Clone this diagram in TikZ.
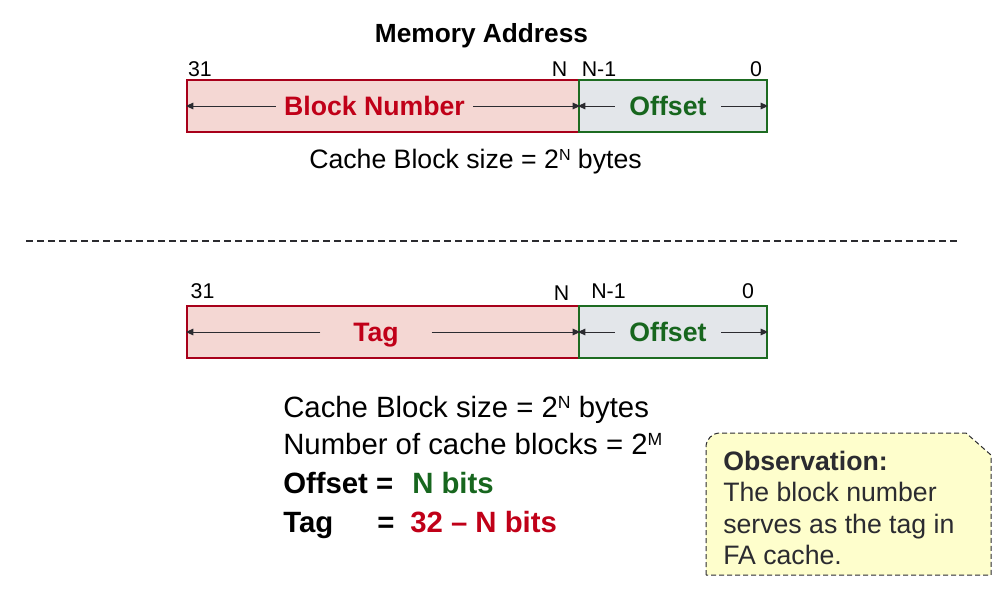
\documentclass[tikz,border=0pt]{standalone}
\usepackage{fontspec}
\setmainfont{Liberation Sans}
\usetikzlibrary{arrows.meta}
\definecolor{tagred}{HTML}{C00018}
\definecolor{redline}{HTML}{A8001A}
\definecolor{redfill}{HTML}{F4D7D3}
\definecolor{offgreen}{HTML}{17661E}
\definecolor{greenline}{HTML}{1D6B21}
\definecolor{greenfill}{HTML}{E3E6EA}
\definecolor{notefill}{HTML}{FEFECC}
\definecolor{inkgray}{HTML}{2B2B30}
\newcommand\supmark[1]{\raisebox{0.3em}{\scalebox{0.6}{#1}}}
\tikzset{
  redbar/.style = {draw=redline, fill=redfill, line width=1.5pt, minimum width=294pt, minimum height=39pt, inner sep=0pt},
  greenbar/.style = {draw=greenline, fill=greenfill, line width=1.5pt, minimum width=141pt, minimum height=39pt, inner sep=0pt},
  bartext/.style = {font=\fontsize{20}{24}\selectfont\bfseries, anchor=base, inner ysep=0pt},
  bitno/.style = {font=\fontsize{16}{18}\selectfont, anchor=base, inner sep=0pt},
  fieldarr/.style = {draw=inkgray, line width=0.75pt, -{Triangle[length=5.5pt,width=5pt]}},
  listtext/.style = {font=\fontsize{22}{26}\selectfont, anchor=base west, inner sep=0pt},
  listbold/.style = {font=\fontsize{22}{26}\selectfont\bfseries, anchor=base west, inner sep=0pt},
  notebox/.style = {draw=inkgray, fill=notefill, line width=0.75pt, dash pattern=on 3.75pt off 2.25pt},
  notetext/.style = {font=\fontsize{20}{23.6}\selectfont, text=inkgray, align=left, anchor=north west, inner sep=0pt}
}
\begin{document}
\begin{tikzpicture}[x=0.75pt, y=-0.75pt]
	\useasboundingbox (0,0) rectangle (1008,611);
	% memory address
	\node[font=\fontsize{19.7}{22}\selectfont\bfseries, anchor=base] (memaddr) at (481.5,42) {Memory Address};
	\node[redbar] (blkfield) at (383,106) {};
	\node[greenbar] (offfield) at (673,106) {};
	\node[bartext, text=tagred, inner xsep=6pt] (blklbl) at (374.5,115.5) {Block Number};
	\node[bartext, text=offgreen, inner xsep=10.9pt] (offlbl) at (668,115.5) {Offset};
	\draw[fieldarr] (blklbl.west |- blkfield) -- (blkfield.west);
	\draw[fieldarr] (blklbl.east |- blkfield) -- (blkfield.east);
	\draw[fieldarr] (offlbl.west |- offfield) -- (offfield.west);
	\draw[fieldarr] (offlbl.east |- offfield) -- (offfield.east);
	\node[bitno] (hi1) at (200,76) {31};
	\node[bitno] (n1) at (559.5,76) {N};
	\node[bitno] (nm1) at (599,76) {N-1};
	\node[bitno] (lo1) at (756,76) {0};
	\node[font=\fontsize{20}{24}\selectfont, anchor=base, inner sep=0pt] (bsize1) at (475.5,168) {Cache Block size = 2\supmark{N} bytes};
	% separator
	\coordinate (sepL) at (26,240.5);
	\coordinate (sepR) at (957,240.5);
	\draw[inkgray, line width=1.5pt, dash pattern=on 5.25pt off 3pt] (sepL) -- (sepR);
	% tag / offset
	\node[redbar] (tagfield) at (383,332) {};
	\node[greenbar] (off2field) at (673,332) {};
	\node[bartext, text=tagred, inner xsep=24.4pt] (taglbl) at (376,341.5) {Tag};
	\node[bartext, text=offgreen, inner xsep=10.9pt] (off2lbl) at (668,341.5) {Offset};
	\draw[fieldarr] (taglbl.west |- tagfield) -- (tagfield.west);
	\draw[fieldarr] (taglbl.east |- tagfield) -- (tagfield.east);
	\draw[fieldarr] (off2lbl.west |- off2field) -- (off2field.west);
	\draw[fieldarr] (off2lbl.east |- off2field) -- (off2field.east);
	\node[bitno] (hi2) at (202.6,298) {31};
	\node[bitno] (n2) at (561.5,300) {N};
	\node[bitno] (nm2) at (608.5,298) {N-1};
	\node[bitno] (lo2) at (748,298) {0};
	% sizes
	\node[listtext] (bsize2) at (283,417) {Cache Block size = 2\supmark{N} bytes};
	\node[listtext] (nblocks) at (283,454.5) {Number of cache blocks = 2\supmark{M}};
	\node[listbold] (offeq) at (283,493) {Offset =};
	\node[listbold, text=offgreen] (offbits) at (412,493) {N bits};
	\node[listbold] (tageq) at (283,532) {Tag};
	\node[listbold] (tagsign) at (377,532) {=};
	\node[listbold, text=tagred] (tagbits) at (410,532) {32 – N bits};
	% observation note
	\filldraw[notebox] (706,575) -- (706,447) arc[start angle=180, end angle=270, radius=14] -- (966,433) -- (991,455) -- (991,575) -- cycle;
	\node[notetext] (obs) at (723,450.5) {\textbf{Observation:}\\The block number\\serves as the tag in\\FA cache.};
\end{tikzpicture}
\end{document}
